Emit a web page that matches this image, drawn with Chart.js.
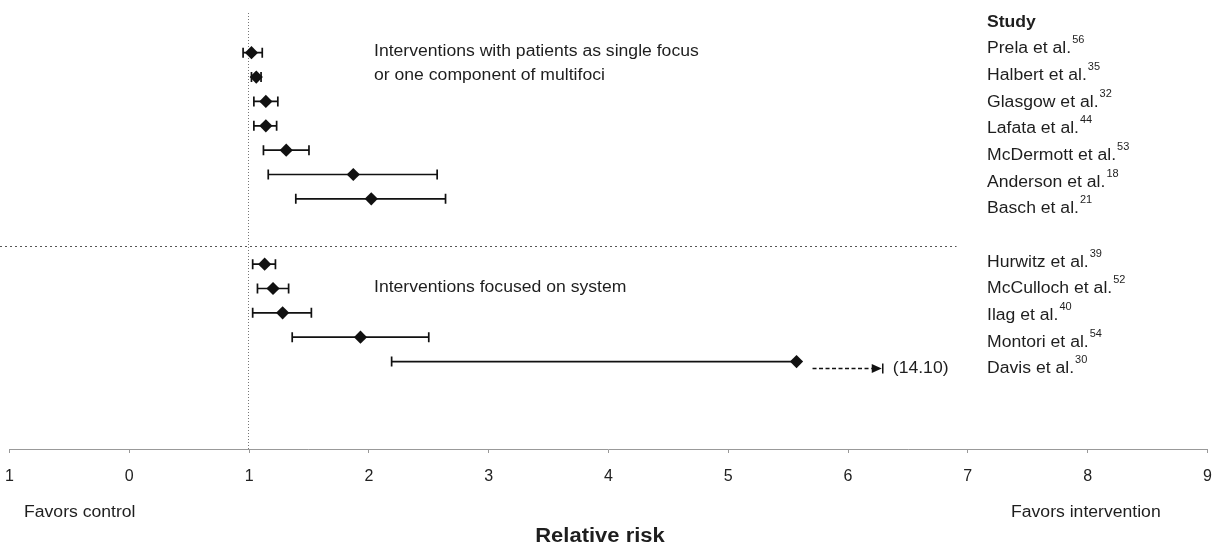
<!DOCTYPE html>
<html>
<head>
<meta charset="utf-8">
<script src="https://cdn.jsdelivr.net/npm/chart.js@4.4.1/dist/chart.umd.min.js"></script>
<style>
  body { margin: 0; background: #fff; }
  #wrap { width: 1214px; height: 546px; }
</style>
</head>
<body>
<div id="wrap"><canvas id="forest"></canvas></div>
<script>
const studies = [
  "Prela et al.", "Halbert et al.", "Glasgow et al.", "Lafata et al.",
  "McDermott et al.", "Anderson et al.", "Basch et al.",
  "Hurwitz et al.", "McCulloch et al.", "Ilag et al.", "Montori et al.", "Davis et al."
];
const refs = ["56", "35", "32", "44", "53", "18", "21", "39", "52", "40", "54", "30"];
const rowPos = [1, 2, 3, 4, 5, 6, 7, 9.68, 10.68, 11.68, 12.68, 13.68];
const relRisk = [1.02, 1.06, 1.14, 1.14, 1.31, 1.87, 2.02, 1.13, 1.20, 1.28, 1.93, 5.57];
const ciLow = [0.95, 1.02, 1.04, 1.04, 1.12, 1.16, 1.39, 1.03, 1.07, 1.03, 1.36, 2.19];
const ciHigh = [1.11, 1.10, 1.24, 1.23, 1.50, 2.57, 2.64, 1.22, 1.33, 1.52, 2.50, 14.10];
const xTickLabels = ["1", "0", "1", "2", "3", "4", "5", "6", "7", "8", "9"];
const groupTitles = [
  ["Interventions with patients as single focus", "or one component of multifoci"],
  ["Interventions focused on system"]
];

const FONT = '"Liberation Sans", Arial, sans-serif';
const INK = "#1e1e1e";
const AXIS_CUT = 6.29; // where the truncated CI is stopped

// text slightly widened like the scanned original
function wideText(ctx, str, x, y, size, bold, align) {
  ctx.save();
  ctx.font = (bold ? "bold " : "") + size + "px " + FONT;
  ctx.translate(x, y);
  ctx.scale(1.1, 1);
  ctx.textAlign = align || "left";
  ctx.textBaseline = "alphabetic";
  ctx.fillStyle = INK;
  ctx.fillText(str, 0, 0);
  const w = ctx.measureText(str).width * 1.1;
  ctx.restore();
  return w;
}

const forestPlugin = {
  id: "forest",
  beforeDatasetsDraw(chart) {
    const { ctx, chartArea, scales: { x, y } } = chart;
    ctx.save();

    // null line (RR = 1)
    const nx = Math.round(x.getPixelForValue(0.99)) + 0.5;
    ctx.strokeStyle = "#777";
    ctx.lineWidth = 1;
    ctx.setLineDash([1, 2]);
    ctx.beginPath();
    ctx.moveTo(nx, chartArea.top);
    ctx.lineTo(nx, chartArea.bottom);
    ctx.stroke();

    // group separator
    const sepY = Math.round(y.getPixelForValue(8.94)) + 0.5;
    ctx.strokeStyle = "#555";
    ctx.setLineDash([2, 3]);
    ctx.beginPath();
    ctx.moveTo(0, sepY);
    ctx.lineTo(x.getPixelForValue(6.906), sepY);
    ctx.stroke();
    ctx.setLineDash([]);

    // confidence intervals
    ctx.strokeStyle = "#111";
    ctx.lineWidth = 1.7;
    relRisk.forEach((v, i) => {
      const py = y.getPixelForValue(rowPos[i]);
      const x0 = x.getPixelForValue(ciLow[i]);
      const truncated = ciHigh[i] > AXIS_CUT;
      const x1 = truncated ? x.getPixelForValue(v) : x.getPixelForValue(ciHigh[i]);
      ctx.beginPath();
      ctx.moveTo(x0, py);
      ctx.lineTo(x1, py);
      ctx.moveTo(x0, py - 5);
      ctx.lineTo(x0, py + 5);
      if (!truncated) {
        ctx.moveTo(x1, py - 5);
        ctx.lineTo(x1, py + 5);
      }
      ctx.stroke();
    });
    ctx.restore();
  },
  afterDraw(chart) {
    const { ctx, scales: { x } } = chart;
    ctx.save();
    const rowStep = 26.67;
    const firstBase = 26.7;
    const labelX = 987;

    wideText(ctx, "Study", labelX, firstBase, 16, true);
    studies.forEach((s, i) => {
      const k = i < 7 ? i + 1 : i + 2;
      const base = firstBase + k * rowStep;
      const w = wideText(ctx, s, labelX, base, 16, false);
      wideText(ctx, refs[i], labelX + w + 1, base - 10, 10, false);

      if (ciHigh[i] > AXIS_CUT) {
        // dashed continuation of the truncated interval
        const ay = base - 5;
        const xs = x.getPixelForValue(relRisk[i]) + 16;
        const xe = x.getPixelForValue(AXIS_CUT);
        ctx.strokeStyle = "#111";
        ctx.lineWidth = 1.5;
        ctx.setLineDash([4, 2.5]);
        ctx.beginPath();
        ctx.moveTo(xs, ay);
        ctx.lineTo(xe - 11, ay);
        ctx.stroke();
        ctx.setLineDash([]);
        ctx.fillStyle = "#111";
        ctx.beginPath();
        ctx.moveTo(xe - 11, ay - 4.5);
        ctx.lineTo(xe - 1, ay);
        ctx.lineTo(xe - 11, ay + 4.5);
        ctx.closePath();
        ctx.fill();
        ctx.beginPath();
        ctx.moveTo(xe, ay - 5);
        ctx.lineTo(xe, ay + 5);
        ctx.stroke();
        wideText(ctx, "(" + ciHigh[i].toFixed(2) + ")", xe + 10, base, 16, false);
      }
    });

    // group titles
    const tx = 374;
    wideText(ctx, groupTitles[0][0], tx, 56, 16, false);
    wideText(ctx, groupTitles[0][1], tx, 80, 16, false);
    wideText(ctx, groupTitles[1][0], tx, 292.3, 16, false);

    // bottom annotations
    wideText(ctx, "Favors control", 24, 517, 16, false);
    wideText(ctx, "Favors intervention", 1011, 517, 16, false);
    wideText(ctx, "Relative risk", 600, 542, 20, true, "center");
    ctx.restore();
  }
};

new Chart(document.getElementById("forest"), {
  type: "scatter",
  data: {
    datasets: [
      {
        label: "Relative risk",
        data: relRisk.map((v, i) => ({ x: v, y: rowPos[i] })),
        pointStyle: "rectRot",
        pointRadius: 6.6,
        pointHoverRadius: 6.6,
        backgroundColor: "#111",
        borderWidth: 0,
      },
    ],
  },
  options: {
    responsive: true,
    maintainAspectRatio: false,
    animation: false,
    layout: { padding: { left: 9.5, right: 6, top: 13, bottom: 0 } },
    plugins: {
      legend: { display: false },
      tooltip: { enabled: false },
    },
    scales: {
      x: {
        type: "linear",
        min: -1,
        max: 9,
        afterFit: (scale) => {
          scale.height = 97;
          scale.paddingLeft = 0;
          scale.paddingRight = 0;
        },
        ticks: {
          stepSize: 1,
          padding: 14,
          color: "#222",
          font: { family: FONT, size: 16 },
          callback: (val, idx) => xTickLabels[idx],
        },
        grid: {
          drawOnChartArea: false,
          drawTicks: true,
          tickLength: 4,
          color: "#999",
        },
        border: { display: true, color: "#999", width: 1 },
      },
      y: {
        type: "linear",
        display: false,
        reverse: true,
        min: -0.63,
        max: 17.27,
      },
    },
  },
  plugins: [forestPlugin],
});
</script>
</body>
</html>
